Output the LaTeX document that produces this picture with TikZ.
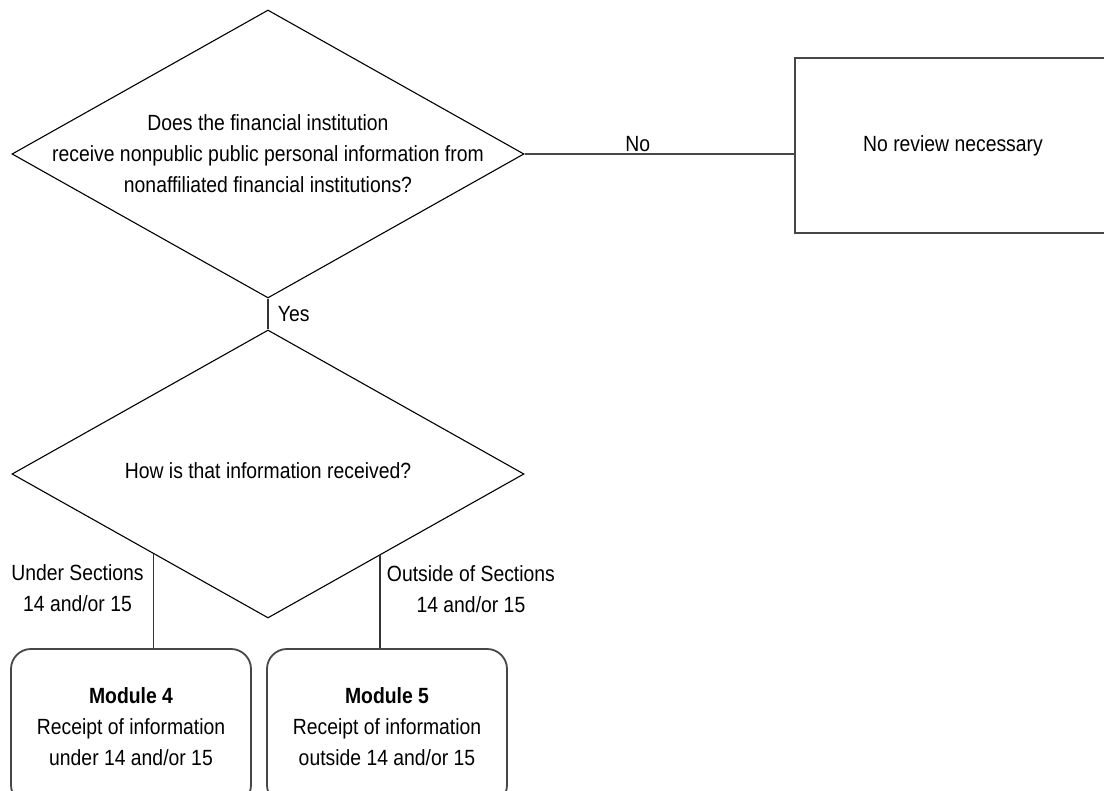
\documentclass[tikz,border=0pt]{standalone}
\usepackage{fontspec}
\setmainfont{Liberation Sans}[FakeStretch=0.88]
\usetikzlibrary{shapes.geometric}

\begin{document}
\begin{tikzpicture}[x=1pt,y=-1pt,font=\fontsize{22}{31}\selectfont,
                decision/.style={shape=diamond,draw=black,line width=1.1pt,minimum width=512pt,minimum height=288pt,inner sep=0pt},
                module/.style={shape=rectangle,rounded corners=20pt,draw=black!72,line width=1.8pt,minimum width=240pt,minimum height=156pt,align=center},
                link/.style={draw=black!80,line width=1.2pt}]
                \useasboundingbox (0,0) rectangle (1104,791);
                \node[decision](Q1)at(268, 154){};
                \node[align=center](Q1text)at(268, 154){Does the financial institution\\receive nonpublic public personal information from\\nonaffiliated financial institutions?};
                \node[shape=rectangle,draw=black!72,line width=1.8pt,minimum width=316pt,minimum height=175pt](None)at(953, 145.5){No review necessary};
                \node[decision](Q2)at(268, 474){};
                \node[](Q2text)at(268, 471){How is that information received?};
                \node[module](M4)at(131, 727){\textbf{Module 4}\\Receipt of information\\under 14 and/or 15};
                \node[module](M5)at(387, 727){\textbf{Module 5}\\Receipt of information\\outside 14 and/or 15};
                \path[link](Q1.east) edge [draw=black!72,line width=1.6pt] node [pos=0.42,above,inner sep=1pt] {No} (Q1.east -| None.west)
                (Q1.south) edge node [right,xshift=6pt] {Yes} (Q2.north)
                (Q2.215.6) edge node [pos=0.36,left,align=center,xshift=-6pt] {Under Sections\\14 and/or 15} (Q2.215.6 |- M4.north)
                (Q2.324.1) edge node [pos=0.36,right,align=center,xshift=3pt] {Outside of Sections\\14 and/or 15} (Q2.324.1 |- M5.north);
            \end{tikzpicture}
\end{document}
